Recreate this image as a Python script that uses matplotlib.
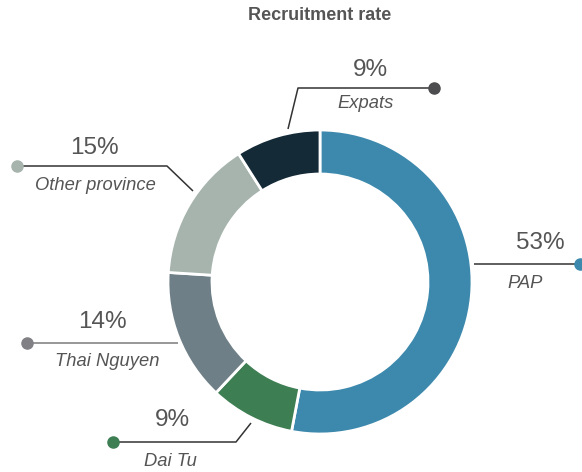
import matplotlib
matplotlib.use('Agg')
import matplotlib.pyplot as plt

# data
labels = ['PAP', 'Dai Tu', 'Thai Nguyen', 'Other province', 'Expats']
values = [53, 9, 14, 15, 9]
colors = ['#3d89ad', '#3e7e53', '#6f7f87', '#a6b4ad', '#142a37']
dot_colors = ['#3d89ad', '#3e7e53', '#808085', '#a6b4ad', '#4d4d4f']

# leader line layout in pixel coords (x, y from top): start on ring, elbow, dot
line_start = [(474, 264), (251, 423), (178, 343), (193, 191), (288, 129)]
line_elbow = [(474, 264), (236, 442), (178, 343), (167, 166), (298, 88)]
line_dot = [(580, 264), (113, 442), (27, 343), (17, 166), (434, 88)]
pct_pos = [(540, 243), (172, 420), (102, 322), (94, 148), (370, 70)]
name_pos = [(525, 283), (170, 462), (107, 361), (95, 185), (366, 104)]

W, H = 582, 472
fig = plt.figure(figsize=(W / 100, H / 100), dpi=100)
ax = fig.add_axes([0, 0, 1, 1])
ax.set_xlim(0, W)
ax.set_ylim(0, H)
ax.set_aspect('equal')
ax.axis('off')

def fy(y):
    return H - y

ax.pie(values, colors=colors, startangle=90, counterclock=False,
       radius=152, center=(320, fy(282)),
       wedgeprops=dict(width=44, edgecolor='white', linewidth=2))
ax.set_xlim(0, W)
ax.set_ylim(0, H)

for i, lab in enumerate(labels):
    xs = [line_start[i][0], line_elbow[i][0], line_dot[i][0]]
    ys = [fy(line_start[i][1]), fy(line_elbow[i][1]), fy(line_dot[i][1])]
    lc = '#7a7a7a' if lab == 'Thai Nguyen' else '#333333'
    ax.plot(xs, ys, color=lc, lw=1.1, solid_capstyle='butt', zorder=3)
    ax.plot(line_dot[i][0], fy(line_dot[i][1]), 'o', ms=8, color=dot_colors[i], zorder=4)
    ax.text(pct_pos[i][0], fy(pct_pos[i][1]), f'{values[i]}%', ha='center', va='center',
            fontsize=17.5, color='#555555', family='Liberation Sans')
    ax.text(name_pos[i][0], fy(name_pos[i][1]), lab, ha='center', va='center',
            fontsize=13.2, color='#555555', style='italic', family='Liberation Sans')

ax.text(320, fy(15), 'Recruitment rate', ha='center', va='center',
        fontsize=13, fontweight='bold', color='#555555', family='Liberation Sans')

fig.savefig('out.png', dpi=100)
